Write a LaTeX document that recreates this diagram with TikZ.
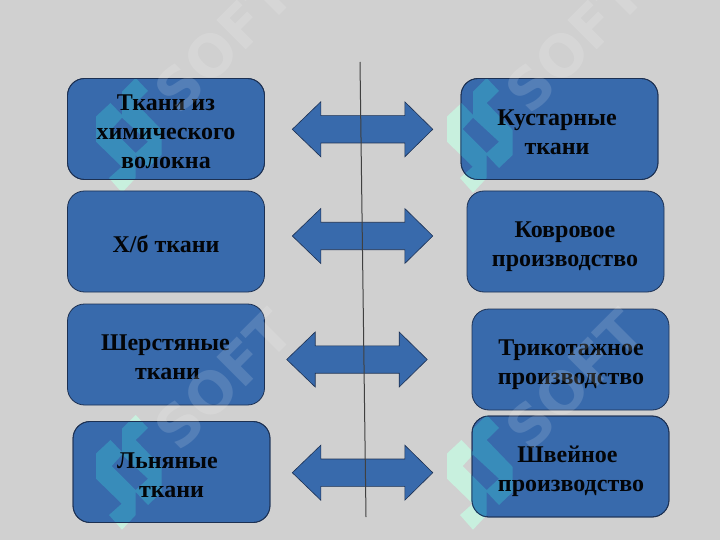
\documentclass[tikz,border=0pt]{standalone}
\usepackage{fontspec}
\setmainfont{Liberation Serif}
\newfontfamily\wmfont{DejaVu Sans}
\usepackage{xcolor}
\usetikzlibrary{positioning}
\definecolor{bggray}{RGB}{208,208,208}
\definecolor{boxblue}{RGB}{56,106,172}
\definecolor{boxline}{RGB}{28,48,82}
\definecolor{logomint}{RGB}{200,240,222}
\definecolor{logoteal}{RGB}{56,140,186}

\newcommand{\softlogo}{(0,38.5) -- (14.5,25) -- (26,37) -- (26,13.5) -- (39.7,0) -- (52,13) -- (39.7,25) -- (65.7,52) -- (65.7,77) -- (52,90) -- (39.7,77) -- (39.7,100) -- (26,114.7) -- (13,100) -- (25.7,88.7) -- (0,63.7) -- cycle (26,39.7) -- (52,63.7) -- (39.7,75) -- (15.7,51) -- cycle}
\newcommand{\dblarrow}{(0,0) -- (28.5,-27.5) -- (28.5,-13.7) -- (112.5,-13.7) -- (112.5,-27.5) -- (140.5,0) -- (112.5,27.5) -- (112.5,13.7) -- (28.5,13.7) -- (28.5,27.5) -- cycle}

\tikzset{
    fabric/.style={draw=boxline, fill=boxblue, line width=0.8pt, rounded corners=17pt,
        minimum width=197pt, minimum height=101pt},
    boxtext/.style={align=center, text=black!90!boxline, font=\fontsize{24}{29}\selectfont\bfseries},
    wmark/.style={text=white, text opacity=0.14, rotate=45, font=\fontsize{57}{57}\selectfont\wmfont\bfseries},
    dbl/.style={draw=boxline, fill=boxblue, line width=0.6pt}
}

\begin{document}
\begin{tikzpicture}[x=1pt, y=-1pt]
    \clip (0,0) rectangle (720,540);
    \fill[bggray] (0,0) rectangle (720,540);

    % logos under the boxes
    \fill[logomint, even odd rule, shift={(96,78)}] \softlogo;
    \fill[logomint, even odd rule, shift={(447,78)}] \softlogo;
    \fill[logomint, even odd rule, shift={(96,415)}] \softlogo;
    \fill[logomint, even odd rule, shift={(447,415)}] \softlogo;

    % boxes
    \node[fabric] (chem) at (166,129) {};
    \node[fabric] (cotton) at (166,241.5) {};
    \node[fabric] (wool) at (166,354.5) {};
    \node[fabric] (linen) at (171.5,472) {};
    \node[fabric] (craft) at (559.5,129) {};
    \node[fabric] (carpet) at (565.5,241.5) {};
    \node[fabric] (knit) at (570.5,359.5) {};
    \node[fabric] (sewing) at (570.5,466.5) {};

    % logos seen through the boxes
    \begin{scope}
        \clip[rounded corners=17pt] (chem.north west) rectangle (chem.south east);
        \fill[logoteal, even odd rule, shift={(96,78)}] \softlogo;
    \end{scope}
    \begin{scope}
        \clip[rounded corners=17pt] (craft.north west) rectangle (craft.south east);
        \fill[logoteal, even odd rule, shift={(447,78)}] \softlogo;
    \end{scope}
    \begin{scope}
        \clip[rounded corners=17pt] (linen.north west) rectangle (linen.south east);
        \fill[logoteal, even odd rule, shift={(96,415)}] \softlogo;
    \end{scope}
    \begin{scope}
        \clip[rounded corners=17pt] (sewing.north west) rectangle (sewing.south east);
        \fill[logoteal, even odd rule, shift={(447,415)}] \softlogo;
    \end{scope}
    \node[fabric, fill=none] (chemline) at (chem) {};
    \node[fabric, fill=none] (craftline) at (craft) {};
    \node[fabric, fill=none] (linenline) at (linen) {};
    \node[fabric, fill=none] (sewingline) at (sewing) {};

    % left column
    \node[boxtext] (chemtext) at (166,131.5) {Ткани из\\химического\\волокна};
    \node[boxtext] (cottontext) at (166,244) {Х/б ткани};
    \node[boxtext] (wooltext) at (167.5,357) {Шерстяные\kern4pt\\ткани};
    \node[boxtext] (linentext) at (171.5,475) {Льняные\kern8pt\\ткани};

    % right column
    \node[boxtext] (crafttext) at (557,132.5) {Кустарные\\ткани};
    \node[boxtext] (carpettext) at (565,246.5) {Ковровое\\производство};
    \node[boxtext] (knittext) at (571,365) {Трикотажное\\производство};
    \node[boxtext] (sewingtext) at (571,471) {Швейное\kern7pt\\производство};

    % arrows
    \filldraw[dbl, shift={(292.3,129.3)}] \dblarrow;
    \filldraw[dbl, shift={(292.3,236)}] \dblarrow;
    \filldraw[dbl, shift={(286.7,359.5)}] \dblarrow;
    \filldraw[dbl, shift={(292.3,472.7)}] \dblarrow;

    \coordinate (top) at (360,62);
    \coordinate (bot) at (366,517);
    \draw[line width=1pt, black!75] (top) -- (bot);

    % watermark
    \node[wmark] (soft1) at (223.5,42.5) {SOFT};
    \node[wmark] (soft2) at (574.5,42.5) {SOFT};
    \node[wmark] (soft3) at (223.5,379.5) {SOFT};
    \node[wmark] (soft4) at (574.5,379.5) {SOFT};
\end{tikzpicture}
\end{document}
